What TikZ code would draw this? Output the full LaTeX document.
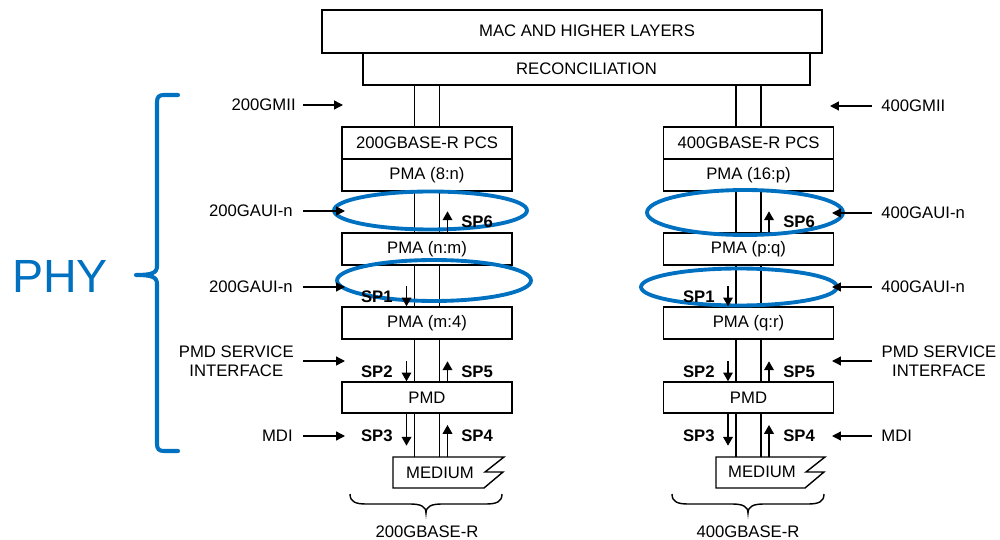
\documentclass[tikz,border=0pt]{standalone}
\usepackage{fontspec}
\setmainfont{Liberation Sans}
\usetikzlibrary{arrows.meta,shapes.geometric,calc}
\definecolor{phyblue}{RGB}{0,112,192}
\begin{document}
\begin{tikzpicture}[x=0.02cm,y=-0.02cm,
 lbl/.style={font=\fontsize{9.5}{11}\selectfont, inner sep=0pt},
 box/.style={draw, line width=0.8pt, minimum width=3.4cm, minimum height=0.64cm, inner sep=0pt, font=\fontsize{9.5}{11}\selectfont},
 splbl/.style={font=\bfseries\fontsize{9.5}{11}\selectfont, inner sep=0pt},
 ln/.style={line width=0.8pt},
 inarr/.style={line width=0.75pt, -{Triangle[length=5pt,width=5pt]}},
 sparr/.style={line width=0.75pt, -{Triangle[length=5pt,width=5.5pt]}},
 ring/.style={ellipse, draw=phyblue, line width=2.2pt, inner sep=0pt},
]
\useasboundingbox (0,0) rectangle (1000,540);

% top boxes
\node[box, minimum width=10cm, minimum height=0.86cm] (mac) at (572,31.5) {};
\node[lbl] (mactext) at (587,31) {MAC AND HIGHER LAYERS};
\node[box, minimum width=8.94cm] (rec) at (586.5,69) {RECONCILIATION};

% left column
\node[box] (pcsL) at (427,143) {200GBASE-R PCS};
\node[box] (pmaAL) at (427,175) {PMA (8:n)};
\node[box] (pmaBL) at (427,249) {PMA (n:m)};
\node[box] (pmaCL) at (427,323) {PMA (m:4)};
\node[box, minimum height=0.62cm] (pmdL) at (427,397.5) {PMD};
\coordinate (mLtop) at (427,457);
\draw[ln] (393,457) -- (504,457) -- (485,472) -- (503,472) -- (484,488) -- (393,488) -- cycle;
\node[lbl] (medL) at (440,473) {MEDIUM};

% right column
\node[box] (pcsR) at (748.5,143) {400GBASE-R PCS};
\node[box] (pmaAR) at (748.5,175) {PMA (16:p)};
\node[box] (pmaBR) at (748.5,249) {PMA (p:q)};
\node[box] (pmaCR) at (748.5,323) {PMA (q:r)};
\node[box, minimum height=0.62cm] (pmdR) at (748.5,397.5) {PMD};
\coordinate (mRtop) at (748.5,457);
\draw[ln] (716,457) -- (825,457) -- (806,472) -- (824,472) -- (805,488) -- (716,488) -- cycle;
\node[lbl] (medR) at (762,472) {MEDIUM};

% column lines
\foreach \c in {L,R}{
  \foreach \s in {-0.25,0.25}{
    \draw[ln] ([xshift=\s cm]pcs\c.north) -- ([xshift=\s cm]pcs\c.north |- rec.south);
    \draw[ln] ([xshift=\s cm]pmaA\c.south) -- ([xshift=\s cm]pmaB\c.north);
    \draw[ln] ([xshift=\s cm]pmaB\c.south) -- ([xshift=\s cm]pmaC\c.north);
    \draw[ln] ([xshift=\s cm]pmaC\c.south) -- ([xshift=\s cm]pmd\c.north);
    \draw[ln] ([xshift=\s cm]pmd\c.south) -- ([xshift=\s cm]m\c top);
  }
}

% ellipses
\node[ring, minimum width=3.86cm, minimum height=0.76cm] (elAL) at (430.5,210.5) {};
\node[ring, minimum width=3.88cm, minimum height=0.82cm] (elBL) at (434,280.5) {};
\node[ring, minimum width=3.92cm, minimum height=0.9cm] (elAR) at (745,212.5) {};
\node[ring, minimum width=3.92cm, minimum height=0.74cm] (elBR) at (739,287) {};

% SP arrows
\foreach \c in {L,R}{
  \draw[sparr] ([xshift=0.41cm]pmaB\c.north) -- ([xshift=0.41cm,yshift=0.42cm]pmaB\c.north);
  \draw[sparr] ([xshift=-0.41cm,yshift=0.4cm]pmaC\c.north) -- ([xshift=-0.41cm]pmaC\c.north);
  \draw[sparr] ([xshift=-0.41cm,yshift=0.4cm]pmd\c.north) -- ([xshift=-0.41cm]pmd\c.north);
  \draw[sparr] ([xshift=0.41cm]pmd\c.north) -- ([xshift=0.41cm,yshift=0.4cm]pmd\c.north);
  \draw[sparr] ([xshift=-0.41cm]pmd\c.south) -- ([xshift=-0.41cm,yshift=-0.64cm]pmd\c.south);
  \draw[sparr] ([xshift=0.41cm]m\c top) -- ([xshift=0.41cm,yshift=0.64cm]m\c top);
}

% SP labels left column
\node[splbl, anchor=west] (sp6L) at (461,222) {SP6};
\node[splbl, anchor=east] (sp1L) at (393,297) {SP1};
\node[splbl, anchor=east] (sp2L) at (393,372) {SP2};
\node[splbl, anchor=west] (sp5L) at (461,372) {SP5};
\node[splbl, anchor=east] (sp3L) at (393,436) {SP3};
\node[splbl, anchor=west] (sp4L) at (461,436) {SP4};
% SP labels right column
\node[splbl, anchor=west] (sp6R) at (783,222) {SP6};
\node[splbl, anchor=east] (sp1R) at (715,297) {SP1};
\node[splbl, anchor=east] (sp2R) at (715,372) {SP2};
\node[splbl, anchor=west] (sp5R) at (783,372) {SP5};
\node[splbl, anchor=east] (sp3R) at (715,436) {SP3};
\node[splbl, anchor=west] (sp4R) at (783,436) {SP4};

% left interface labels and arrows
\node[lbl, anchor=east] (gmiiL) at (296,105) {200GMII};
\node[lbl, anchor=east] (gauiAL) at (293,211) {200GAUI-n};
\node[lbl, anchor=east] (gauiBL) at (293,287) {200GAUI-n};
\node[lbl, anchor=east, align=center] (psiL) at (294,361) {PMD SERVICE\\INTERFACE};
\node[lbl, anchor=east] (mdiL) at (293,436) {MDI};
\coordinate (tgmiiL) at (343,105);
\coordinate (tgauiAL) at (345,211);
\coordinate (tgauiBL) at (345,287);
\coordinate (tpsiL) at (345,361);
\coordinate (tmdiL) at (345,436);
\draw[inarr] (gmiiL.east -| 303,0) -- (tgmiiL);
\draw[inarr] (gauiAL.east -| 303,0) -- (tgauiAL);
\draw[inarr] (gauiBL.east -| 303,0) -- (tgauiBL);
\draw[inarr] (psiL.east -| 303,0) -- (tpsiL);
\draw[inarr] (mdiL.east -| 303,0) -- (tmdiL);

% right interface labels and arrows
\node[lbl, anchor=west] (gmiiR) at (881,106) {400GMII};
\node[lbl, anchor=west] (gauiAR) at (881,213) {400GAUI-n};
\node[lbl, anchor=west] (gauiBR) at (881,287) {400GAUI-n};
\node[lbl, align=center] (psiR) at (939,361) {PMD SERVICE\\INTERFACE};
\node[lbl, anchor=west] (mdiR) at (881,436) {MDI};
\coordinate (tgmiiR) at (830,106);
\coordinate (tgauiAR) at (832,213);
\coordinate (tgauiBR) at (832,287);
\coordinate (tpsiR) at (832,361);
\coordinate (tmdiR) at (832,436);
\draw[inarr] (gmiiR.west -| 872,0) -- (tgmiiR);
\draw[inarr] (gauiAR.west -| 872,0) -- (tgauiAR);
\draw[inarr] (gauiBR.west -| 872,0) -- (tgauiBR);
\draw[inarr] (psiR.west -| 872,0) -- (tpsiR);
\draw[inarr] (mdiR.west -| 872,0) -- (tmdiR);

% bottom braces and labels
\draw[ln] (350,494) .. controls (350,502) and (356,504) .. (366,504) -- (410,504) .. controls (420,504) and (426,506) .. (426,513) .. controls (426,506) and (432,504) .. (442,504) -- (486,504) .. controls (496,504) and (502,502) .. (502,494);
\draw[ln] (672,494) .. controls (672,502) and (678,504) .. (688,504) -- (732,504) .. controls (742,504) and (748,506) .. (748,513) .. controls (748,506) and (754,504) .. (764,504) -- (808,504) .. controls (818,504) and (824,502) .. (824,494);
\node[lbl] (baseL) at (427,532) {200GBASE-R};
\node[lbl] (baseR) at (748,532) {400GBASE-R};

% PHY brace
\draw[phyblue, line width=2.3pt, line cap=round, line join=round] (178,95) -- (164,95) .. controls (159,95) and (157,97) .. (157,102) -- (157,266) .. controls (157,273) and (152,275) .. (136,275) .. controls (152,275) and (157,277) .. (157,284) -- (157,444) .. controls (157,449) and (159,451) .. (164,451) -- (178,451);
\node[text=phyblue, font=\fontsize{26.5}{30}\selectfont, inner sep=0pt] (phy) at (60,276) {PHY};
\end{tikzpicture}
\end{document}
